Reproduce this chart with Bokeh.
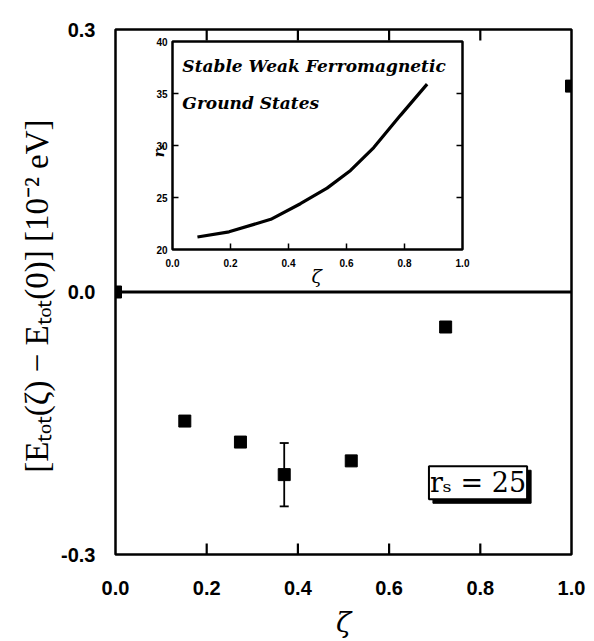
import math
from bokeh.plotting import figure
from bokeh.models import (Range1d, LinearAxis, FixedTicker, Span, Label, Whisker,
                          ColumnDataSource, TeeHead)
from bokeh.core.properties import value
from bokeh.embed import file_html
from bokeh.resources import INLINE

# ---------------- data ----------------
zeta = [0.0, 0.152, 0.274, 0.370, 0.517, 0.724, 1.0]
dE = [0.0, -0.1475, -0.1715, -0.2087, -0.193, -0.040, 0.2353]
err_x = [0.370]
err_lo = [-0.245]
err_hi = [-0.1726]

x_ticks = [0.0, 0.2, 0.4, 0.6, 0.8, 1.0]
x_tick_labels = ["0.0", "0.2", "0.4", "0.6", "0.8", "1.0"]
y_ticks = [-0.3, 0.0, 0.3]
y_tick_labels = ["-0.3", "0.0", "0.3"]

inset_zeta = [0.086, 0.195, 0.339, 0.441, 0.533, 0.614, 0.694, 0.786, 0.878]
inset_rs = [21.2, 21.7, 22.9, 24.4, 25.9, 27.6, 29.8, 32.9, 35.9]
inset_x_ticks = [0.0, 0.2, 0.4, 0.6, 0.8, 1.0]
inset_x_labels = ["0.0", "0.2", "0.4", "0.6", "0.8", "1.0"]
inset_y_ticks = [20, 25, 30, 35, 40]
inset_y_labels = ["20", "25", "30", "35", "40"]

# ---------------- layout constants (pixels) ----------------
W, H = 594, 641
FL, FR, FT, FB = 115, 571, 29, 554          # main frame
IL, IR, IT, IB = 172, 462, 41, 249          # inset box

p = figure(width=W, height=H, output_backend="svg", toolbar_location=None,
           x_range=Range1d(0, 1), y_range=Range1d(-0.3, 0.3),
           min_border_left=FL, min_border_right=W - FR,
           min_border_top=FT, min_border_bottom=H - FB,
           x_axis_location=None, y_axis_location=None)
p.grid.visible = False
p.outline_line_color = "black"
p.outline_line_width = 2.5
p.background_fill_color = "white"
p.border_fill_color = "white"

px_y = 0.6 / (FB - FT)        # data units per pixel (main y)

bottom = LinearAxis(ticker=FixedTicker(ticks=x_ticks),
                    major_label_overrides={t: l for t, l in zip(x_ticks, x_tick_labels)})
bottom.axis_line_color = None
bottom.major_tick_line_color = None
bottom.minor_tick_line_color = None
bottom.major_label_standoff = 20
bottom.major_label_text_font = "Liberation Sans"
bottom.major_label_text_font_style = "bold"
bottom.major_label_text_font_size = "20px"
bottom.major_label_text_color = "black"
bottom.axis_label = "ζ"
bottom.axis_label_text_font = "DejaVu Serif"
bottom.axis_label_text_font_style = "italic"
bottom.axis_label_text_font_size = "28px"
bottom.axis_label_text_color = "black"
bottom.axis_label_standoff = 8
p.add_layout(bottom, "below")

left = LinearAxis(ticker=FixedTicker(ticks=y_ticks),
                  major_label_overrides={t: l for t, l in zip(y_ticks, y_tick_labels)})
left.axis_line_color = None
left.major_tick_line_color = None
left.minor_tick_line_color = None
left.major_label_standoff = 14
left.major_label_text_font = "Liberation Sans"
left.major_label_text_font_style = "bold"
left.major_label_text_font_size = "20px"
left.major_label_text_color = "black"
left.axis_label = "[Eₜₒₜ(ζ) − Eₜₒₜ(0)]  [10⁻² eV]"
left.axis_label_text_font = "Liberation Serif"
left.axis_label_text_font_style = "normal"
left.axis_label_text_font_size = "33px"
left.axis_label_text_color = "black"
left.axis_label_standoff = 3
p.add_layout(left, "left")

# inward ticks on bottom and top edges of the main frame
mt = x_ticks[1:-1]
p.segment(x0=mt, x1=mt, y0=[-0.3] * len(mt), y1=[-0.3 + 11 * px_y] * len(mt),
          line_color="black", line_width=2.2)
p.segment(x0=mt, x1=mt, y0=[0.3] * len(mt), y1=[0.3 - 11 * px_y] * len(mt),
          line_color="black", line_width=2.2)

# zero line
p.add_layout(Span(location=0, dimension="width", line_color="black", line_width=3))

# error bar
esrc = ColumnDataSource(dict(x=err_x, lo=err_lo, hi=err_hi))
p.add_layout(Whisker(source=esrc, base="x", lower="lo", upper="hi",
                     line_width=1.8, line_color="black",
                     upper_head=TeeHead(size=9, line_width=1.8),
                     lower_head=TeeHead(size=9, line_width=1.8)))

# data squares
p.scatter(zeta, dE, marker="square", size=12, color="black")

# ---------------- inset via extra ranges ----------------
sx = (IR - IL) / 1.0
sy = (IB - IT) / 20.0
ix0 = 0 - (IL - FL) / sx
ix1 = 1 + (FR - IR) / sx
iy0 = 20 - (FB - IB) / sy
iy1 = 40 + (IT - FT) / sy
p.extra_x_ranges = {"ix": Range1d(ix0, ix1)}
p.extra_y_ranges = {"iy": Range1d(iy0, iy1)}
kw = dict(x_range_name="ix", y_range_name="iy")

p.quad(left=[0], right=[1], bottom=[20], top=[40], fill_color="white",
       line_color="black", line_width=2.5, **kw)

tl = 6 / sx
tly = 6 / sy
ymid = inset_y_ticks[1:-1]
xmid = inset_x_ticks[1:-1]
p.segment(x0=[0] * len(ymid), x1=[tl] * len(ymid), y0=ymid, y1=ymid,
          line_color="black", line_width=1.5, **kw)
p.segment(x0=[1] * len(ymid), x1=[1 - tl] * len(ymid), y0=ymid, y1=ymid,
          line_color="black", line_width=1.5, **kw)
p.segment(x0=xmid, x1=xmid, y0=[20] * len(xmid), y1=[20 + tly] * len(xmid),
          line_color="black", line_width=1.5, **kw)

p.text(x=[0] * len(inset_y_ticks), y=inset_y_ticks, text=inset_y_labels,
       x_offset=-5, text_align="right", text_baseline="middle",
       text_font=value("Liberation Sans"), text_font_style="bold",
       text_font_size="10px", **kw)
p.text(x=inset_x_ticks, y=[20] * len(inset_x_ticks), text=inset_x_labels,
       y_offset=9, text_align="center", text_baseline="top",
       text_font=value("Liberation Sans"), text_font_style="bold",
       text_font_size="10px", **kw)

p.line(inset_zeta, inset_rs, line_color="black", line_width=3.2, **kw)

p.text(x=[-0.048], y=[29.5], text=["rₛ"], angle=math.pi / 2,
       text_align="center", text_baseline="middle",
       text_font=value("DejaVu Serif"), text_font_style="bold italic",
       text_font_size="14px", **kw)
p.text(x=[0.497], y=[17.5], text=["ζ"], text_align="center", text_baseline="middle",
       text_font=value("DejaVu Serif"), text_font_style="italic",
       text_font_size="19px", **kw)
p.text(x=[0.034, 0.034], y=[37.69, 34.04],
       text=["Stable Weak Ferromagnetic", "Ground States"],
       text_align="left", text_baseline="middle",
       text_font=value("DejaVu Serif"), text_font_style="bold italic",
       text_font_size="17px", **kw)

# ---------------- r_s = 25 box with shadow ----------------
bx, by = 0.795, -0.218
p.add_layout(Label(x=bx, y=by, x_offset=4, y_offset=-4, text="rₛ = 25",
                   text_align="center", text_baseline="middle",
                   text_font="DejaVu Serif", text_font_size="27px",
                   text_color="black", background_fill_color="black",
                   border_line_color="black", padding=1))
p.add_layout(Label(x=bx, y=by, text="rₛ = 25",
                   text_align="center", text_baseline="middle",
                   text_font="DejaVu Serif", text_font_size="27px",
                   text_color="black", background_fill_color="white",
                   border_line_color="black", border_line_width=2, padding=1))

open("out.html", "w").write(file_html(p, INLINE))
